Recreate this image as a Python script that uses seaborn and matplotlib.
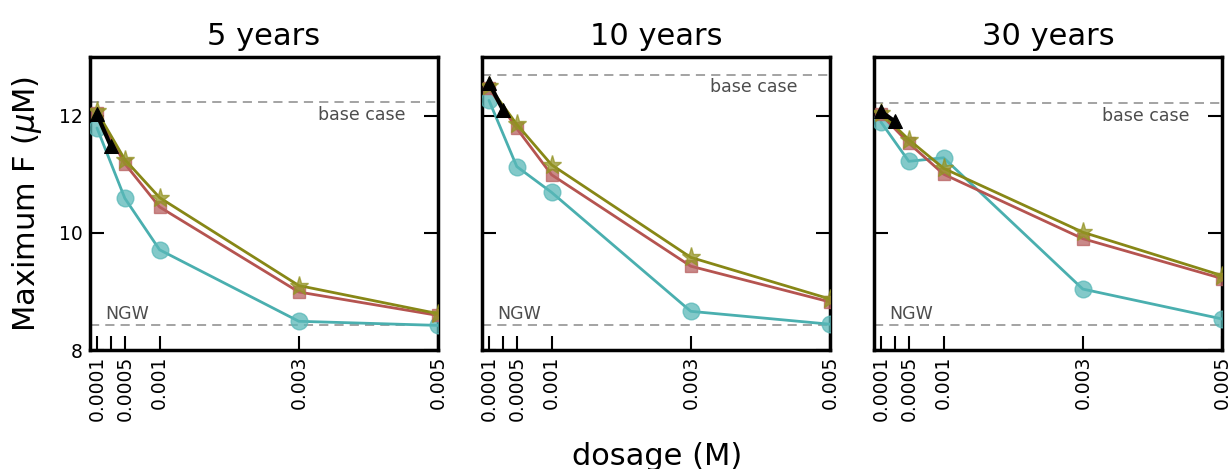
import numpy as np
import pandas as pd
import matplotlib
matplotlib.use("Agg")
import matplotlib.pyplot as plt
import seaborn as sns

# ---------------- data ----------------
panel_titles = ["5 years", "10 years", "30 years"]
doses = [0.0001, 0.0005, 0.001, 0.003, 0.005]
doses_black = [0.0001, 0.0003]
tick_positions = [0.0001, 0.0003, 0.0005, 0.001, 0.003, 0.005]
tick_labels = ["0.0001", "", "0.0005", "0.001", "0.003", "0.005"]
y_ticks = [8, 10, 12]

cyan_5 = [11.79, 10.59, 9.71, 8.49, 8.42]
red_5 = [12.05, 11.18, 10.44, 8.99, 8.59]
olive_5 = [12.07, 11.25, 10.60, 9.10, 8.62]
black_5 = [12.02, 11.48]

cyan_10 = [12.26, 11.13, 10.69, 8.66, 8.44]
red_10 = [12.47, 11.78, 10.99, 9.43, 8.82]
olive_10 = [12.50, 11.85, 11.16, 9.58, 8.87]
black_10 = [12.56, 12.10]

cyan_30 = [11.89, 11.22, 11.28, 9.04, 8.53]
red_30 = [12.02, 11.53, 11.00, 9.90, 9.22]
olive_30 = [12.05, 11.59, 11.10, 10.01, 9.27]
black_30 = [12.07, 11.90]

base_case = [12.23, 12.70, 12.21]
ngw = 8.43

cyan_sets = [cyan_5, cyan_10, cyan_30]
red_sets = [red_5, red_10, red_30]
olive_sets = [olive_5, olive_10, olive_30]
black_sets = [black_5, black_10, black_30]

# ---------------- style ----------------
sns.set_theme(style="white")
plt.rcParams["font.family"] = ["DejaVu Sans"]
plt.rcParams["mathtext.fontset"] = "dejavusans"
for key in ["text.color", "axes.labelcolor", "xtick.color", "ytick.color"]:
    plt.rcParams[key] = "black"

fig = plt.figure(figsize=(12.31, 4.69), dpi=100)
lefts = [90 / 1231, 482 / 1231, 874 / 1231]
width = 348 / 1231
bottom = 1 - 350 / 469
height = 293 / 469

series_style = [
    ("#4aafaf", (0.35, 0.72, 0.72, 0.75), "o", 12),
    ("#b55450", (0.72, 0.38, 0.38, 0.75), "s", 9),
    ("#878716", (0.58, 0.58, 0.15, 0.75), "*", 14),
]

for i in range(3):
    ax = fig.add_axes([lefts[i], bottom, width, height])
    for vals, (lc, mfc, mk, ms) in zip(
        [cyan_sets[i], red_sets[i], olive_sets[i]], series_style
    ):
        df = pd.DataFrame({"dose": doses, "F": vals})
        sns.lineplot(data=df, x="dose", y="F", ax=ax, color=lc, lw=2,
                     marker=mk, markersize=ms, markerfacecolor=mfc,
                     markeredgecolor=mfc, markeredgewidth=1, zorder=3)
    dfb = pd.DataFrame({"dose": doses_black, "F": black_sets[i]})
    sns.lineplot(data=dfb, x="dose", y="F", ax=ax, color="black", lw=3,
                 marker="^", markersize=10, markerfacecolor="black",
                 markeredgecolor="black", zorder=4)

    ax.axhline(base_case[i], ls=(0, (6, 4)), color="#8a8a8a", lw=1.1, zorder=1)
    ax.axhline(ngw, ls=(0, (6, 4)), color="#8a8a8a", lw=1.1, zorder=1)
    ax.text(0.00453, base_case[i] - 0.06, "base case", ha="right", va="top",
            fontsize=12.5, color="#4d4d4d")
    ax.text(0.00022, ngw + 0.03, "NGW", ha="left", va="bottom",
            fontsize=12.5, color="#4d4d4d")

    ax.set_xlim(0, 0.005)
    ax.set_ylim(8, 13)
    ax.set_xticks(tick_positions)
    ax.set_xticklabels(tick_labels, rotation=90, fontsize=13.5)
    ax.set_yticks(y_ticks)
    if i == 0:
        ax.set_yticklabels([str(v) for v in y_ticks], fontsize=13.5)
    else:
        ax.set_yticklabels([])
    ax.tick_params(axis="both", direction="in", length=10, width=1.5,
                   color="black", labelcolor="black", pad=5)
    ax.tick_params(axis="y", left=True, right=True)
    ax.tick_params(axis="x", bottom=True, top=False, pad=4)
    for sp in ax.spines.values():
        sp.set_visible(True)
        sp.set_color("black")
        sp.set_linewidth(2.5)
    ax.set_xlabel("")
    ax.set_ylabel("")
    ax.set_title(panel_titles[i], fontsize=22, pad=9, color="black")

fig.text(27 / 1231, 1 - 204 / 469, r"Maximum F ($\mu$M)", rotation=90,
         ha="center", va="center", fontsize=22, color="black")
fig.text(657 / 1231, 0.009, "dosage (M)", ha="center", va="baseline",
         fontsize=22, color="black")

fig.savefig("out.png", dpi=100)
